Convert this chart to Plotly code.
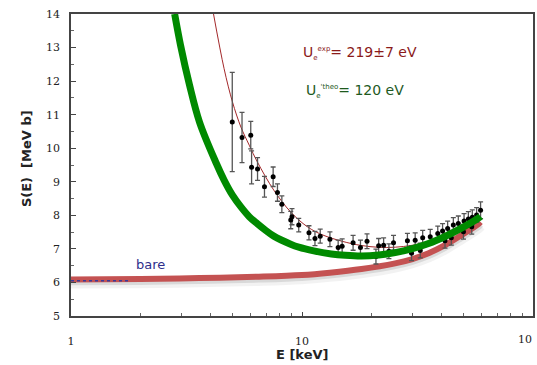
import plotly.graph_objects as go

# ---- data ----
data_E = [4.99, 5.50, 6.00, 6.05, 6.42, 6.88, 7.50, 7.83, 8.18, 8.94, 9.05, 9.68, 10.72, 11.38,
          11.99, 13.21, 14.34, 14.92, 16.64, 17.91, 19.12, 20.9, 21.47, 22.56, 23.78, 24.9,
          28.6, 29.8, 30.9, 32.5, 33.3, 35.9, 38.7, 40.6, 41.6, 42.7, 44.3, 45.2, 47.5, 50.0,
          50.3, 52.5, 54.3, 54.6, 57.0, 59.3]
data_S = [10.78, 10.32, 10.39, 9.43, 9.38, 8.85, 9.15, 8.68, 8.33, 7.86, 7.96, 7.71, 7.48, 7.31,
          7.38, 7.29, 7.04, 7.08, 7.18, 7.04, 7.23, 6.77, 7.09, 7.11, 6.93, 7.18,
          7.24, 6.87, 7.26, 6.95, 7.33, 7.36, 7.46, 7.53, 7.24, 7.61, 7.33, 7.71, 7.76, 7.51,
          7.83, 7.89, 7.66, 7.94, 8.01, 8.15]
data_err = [1.48, 0.75, 0.41, 0.49, 0.34, 0.31, 0.29, 0.26, 0.25, 0.26, 0.24, 0.20, 0.21, 0.21,
            0.21, 0.22, 0.22, 0.22, 0.22, 0.22, 0.22, 0.22, 0.22, 0.22, 0.22, 0.22,
            0.22, 0.22, 0.22, 0.22, 0.22, 0.22, 0.22, 0.22, 0.22, 0.22, 0.22, 0.22, 0.22, 0.22,
            0.22, 0.22, 0.22, 0.22, 0.22, 0.25]

theo_E = [2.81, 2.98, 3.26, 3.60, 4.25, 4.60, 5.00, 5.44, 5.91, 6.41, 6.97, 7.55, 8.93, 9.68,
          11.25, 13.4, 15.4, 18.1, 21.5, 25.3, 29.8, 35.3, 41.6, 49.0, 57.8, 59.3]
theo_S = [14.0, 13.07, 11.88, 10.78, 9.56, 9.05, 8.60, 8.25, 7.96, 7.75, 7.55, 7.38, 7.14, 7.05,
          6.94, 6.85, 6.81, 6.79, 6.82, 6.89, 7.00, 7.16, 7.37, 7.62, 7.91, 7.97]

fit_E = [4.14, 4.60, 5.00, 5.44, 5.91, 6.41, 7.55, 8.93, 10.55, 12.45, 18.1, 25.3, 35.3,
         49.0, 59.3]
fit_S = [14.0, 12.37, 11.38, 10.63, 10.09, 9.59, 8.75, 8.10, 7.66, 7.40, 7.10, 7.05, 7.22,
         7.65, 7.99]

bare_E = [1.0, 2.0, 3.6, 6.5, 10.0, 13.2, 18.1, 25.3, 29.8, 35.3, 41.6, 49.0, 57.8, 59.3]
bare_S = [6.09, 6.10, 6.13, 6.17, 6.22, 6.29, 6.40, 6.57, 6.69, 6.87, 7.11, 7.41, 7.73, 7.80]

blue_E = [1.0, 1.81]
blue_S = [6.05, 6.05]

x_tick_vals = [1, 10]
x_tick_text = ["1", "10"]
x_last_label = "10"
y_tick_vals = [5, 6, 7, 8, 9, 10, 11, 12, 13, 14]

fig = go.Figure()

# soft shadow of the bare curve
fig.add_trace(go.Scatter(x=bare_E, y=[s - 0.11 for s in bare_S], mode="lines",
                         line=dict(color="rgba(0,0,0,0.05)", width=11, shape="spline"),
                         hoverinfo="skip", showlegend=False))
fig.add_trace(go.Scatter(x=bare_E, y=[s - 0.07 for s in bare_S], mode="lines",
                         line=dict(color="rgba(0,0,0,0.10)", width=7, shape="spline"),
                         hoverinfo="skip", showlegend=False))
fig.add_trace(go.Scatter(x=bare_E, y=bare_S, mode="lines",
                         line=dict(color="#c45252", width=6, shape="spline"),
                         showlegend=False))
fig.add_trace(go.Scatter(x=blue_E, y=blue_S, mode="lines",
                         line=dict(color="#3a3a9a", width=1.5, dash="dot"),
                         showlegend=False))
fig.add_trace(go.Scatter(x=fit_E, y=fit_S, mode="lines",
                         line=dict(color="#a3282a", width=1, shape="spline"),
                         showlegend=False))
fig.add_trace(go.Scatter(x=data_E, y=data_S, mode="markers",
                         marker=dict(color="black", size=5),
                         error_y=dict(type="data", array=data_err, color="#555555",
                                      thickness=1.3, width=2.5),
                         showlegend=False))
fig.add_trace(go.Scatter(x=theo_E, y=theo_S, mode="lines",
                         line=dict(color="#008a00", width=7, shape="spline"),
                         showlegend=False))

minor_x = [k * 10 ** d for d in (0, 1) for k in range(2, 10)]
tick_font = dict(family="DejaVu Serif", size=11, color="#222")

fig.update_xaxes(type="log", range=[0, 2], tickvals=x_tick_vals, ticktext=x_tick_text,
                 ticks="inside", ticklen=4, tickcolor="#444", tickwidth=1,
                 showline=True, linecolor="#444", linewidth=1.5, mirror=True,
                 showgrid=False, zeroline=False, ticklabelstandoff=14,
                 tickfont=tick_font,
                 minor=dict(tickvals=minor_x, ticks="inside", ticklen=3,
                            tickcolor="#666", showgrid=False))
fig.update_yaxes(range=[5, 14], tickvals=y_tick_vals,
                 ticks="inside", ticklen=5, tickcolor="#444", tickwidth=1,
                 showline=True, linecolor="#444", linewidth=1.5, mirror=True,
                 showgrid=False, zeroline=False, ticklabelstandoff=7,
                 ticklabeloverflow="allow", tickfont=tick_font,
                 minor=dict(dtick=0.5, ticks="inside", ticklen=3, tickcolor="#666",
                            showgrid=False))

fig.add_annotation(x=2, y=0, xref="x", yref="paper", text=x_last_label, showarrow=False,
                   xanchor="right", yanchor="top", yshift=-15, xshift=1, font=tick_font)

fig.add_annotation(x=-0.095, y=0.52, xref="paper", yref="paper", text="S(E)  [MeV b]",
                   textangle=-90, showarrow=False, xanchor="center", yanchor="middle",
                   font=dict(family="DejaVu Sans", size=13, color="#222", weight="bold"))
fig.add_annotation(x=0.5, y=-0.129, xref="paper", yref="paper", text="E [keV]",
                   showarrow=False, xanchor="center", yanchor="middle",
                   font=dict(family="DejaVu Sans", size=13, color="#222", weight="bold"))

small = "<span style='font-size:7px'>{}</span>"
fig.add_annotation(x=0.498, y=0.872, xref="paper", yref="paper",
                   text="U<sub>" + small.format("e") + "</sub><sup>" + small.format("exp")
                        + "</sup>= 219±7 eV",
                   showarrow=False, xanchor="left", yanchor="middle",
                   font=dict(family="DejaVu Sans", size=14, color="#8b1a1a"))
fig.add_annotation(x=0.504, y=0.745, xref="paper", yref="paper",
                   text="U<sub>" + small.format("e") + "</sub><sup>" + small.format("'theo")
                        + "</sup>= 120 eV",
                   showarrow=False, xanchor="left", yanchor="middle",
                   font=dict(family="DejaVu Sans", size=14, color="#1e5a1e"))
fig.add_annotation(x=0.172, y=0.169, xref="paper", yref="paper", text="bare",
                   showarrow=False, xanchor="center", yanchor="middle",
                   font=dict(family="DejaVu Sans", size=13, color="#2e2e8c"))

fig.update_layout(width=537, height=365, margin=dict(l=71, r=2, t=13.5, b=49),
                  paper_bgcolor="white", plot_bgcolor="white", showlegend=False)

# remove the default page margin so the figure fills the window exactly
fig.write_html("out.html", config={"displayModeBar": False},
               post_script="document.body.style.margin='0';"
                           "document.body.style.overflow='hidden';")
